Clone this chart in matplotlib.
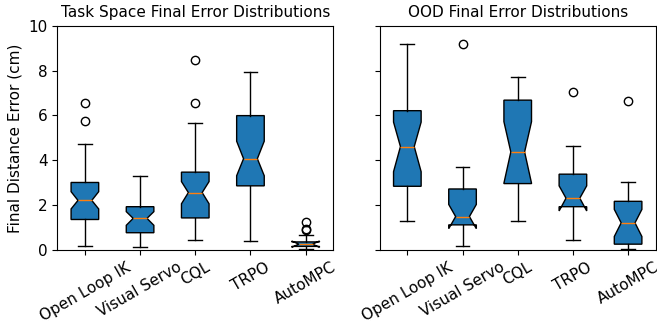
import numpy as np
import matplotlib.pyplot as plt

methods = ["Open Loop IK", "Visual Servo", "CQL", "TRPO", "AutoMPC"]

# task space final error (cm)
task_q1 = [1.36, 0.77, 1.43, 2.86, 0.16]
task_med = [2.21, 1.41, 2.56, 4.07, 0.26]
task_q3 = [3.01, 1.93, 3.47, 5.99, 0.36]
task_lo = [0.19, 0.12, 0.46, 0.41, 0.03]
task_hi = [4.72, 3.31, 5.66, 7.95, 0.67]
task_cilo = [1.83, 1.10, 2.06, 3.31, 0.12]
task_cihi = [2.60, 1.71, 3.05, 4.85, 0.40]
task_fliers = [[5.75, 6.57], [], [6.55, 8.45], [], [0.87, 0.93, 1.25]]

# out-of-distribution final error (cm)
ood_q1 = [2.84, 1.12, 2.96, 1.93, 0.26]
ood_med = [4.61, 1.49, 4.37, 2.31, 1.21]
ood_q3 = [6.21, 2.72, 6.68, 3.38, 2.17]
ood_lo = [1.30, 0.17, 1.29, 0.44, 0.06]
ood_hi = [9.20, 3.71, 7.71, 4.63, 3.04]
ood_cilo = [3.49, 0.95, 2.98, 1.74, 0.60]
ood_cihi = [5.70, 2.03, 5.72, 2.86, 1.81]
ood_fliers = [[], [9.17], [], [7.03], [6.66]]


def make_stats(q1, med, q3, lo, hi, cilo, cihi, fliers):
    stats = []
    for i in range(len(methods)):
        stats.append(dict(label=methods[i], q1=q1[i], med=med[i], q3=q3[i],
                          whislo=lo[i], whishi=hi[i], cilo=cilo[i],
                          cihi=cihi[i], fliers=np.array(fliers[i])))
    return stats


fig = plt.figure(figsize=(6.57, 3.27), dpi=100)
ax1 = fig.add_axes([0.0872, 0.2355, 0.42, 0.686])
ax2 = fig.add_axes([0.578, 0.2355, 0.42, 0.686], sharey=ax1)

panels = [
    (ax1, make_stats(task_q1, task_med, task_q3, task_lo, task_hi,
                     task_cilo, task_cihi, task_fliers),
     "Task Space Final Error Distributions"),
    (ax2, make_stats(ood_q1, ood_med, ood_q3, ood_lo, ood_hi,
                     ood_cilo, ood_cihi, ood_fliers),
     "OOD Final Error Distributions"),
]

for ax, stats, title in panels:
    ax.bxp(stats, shownotches=True, patch_artist=True,
           boxprops=dict(facecolor="C0"),
           medianprops=dict(color="C1"))
    ax.set_title(title, fontsize=11)
    ax.tick_params(axis="x", labelrotation=30, labelsize=11)
    ax.tick_params(axis="y", labelsize=11)

ax1.set_ylim(0, 10)
ax1.set_ylabel("Final Distance Error (cm)", fontsize=11)
plt.setp(ax2.get_yticklabels(), visible=False)

fig.savefig("out.png", dpi=100)
